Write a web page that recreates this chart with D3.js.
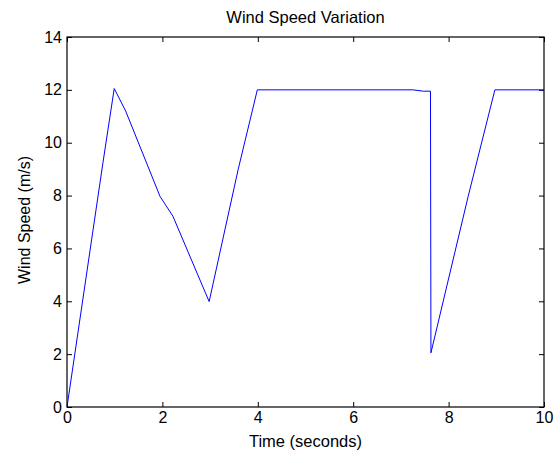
<!DOCTYPE html>
<html>
<head>
<meta charset="utf-8">
<script src="https://cdn.jsdelivr.net/npm/d3@7"></script>
<style>
  body { margin: 0; background: #fff; }
  #chart { width: 556px; height: 455px; }
  text { font-family: "Liberation Sans", Arial, sans-serif; fill: #000; }
</style>
</head>
<body>
<div id="chart"></div>
<script>
const timeValues = [0, 0.75, 0.99, 1.23, 1.95, 2.22, 2.98, 3.59, 3.99, 7.25, 7.47, 7.62, 7.63, 8.41, 8.97, 10];
const speedValues = [0, 9.2, 12.05, 11.2, 7.97, 7.22, 3.99, 9.0, 12.0, 12.0, 11.95, 11.95, 2.05, 7.97, 12.0, 12.0];
const xTicks = [0, 2, 4, 6, 8, 10];
const yTicks = [0, 2, 4, 6, 8, 10, 12, 14];

function renderWindSpeed(selector) {
    d3.select(selector).html("");

    const margin = {top: 37, right: 12, bottom: 48, left: 67};
    const fullWidth = 556, fullHeight = 455;
    const width = fullWidth - margin.left - margin.right;
    const height = fullHeight - margin.top - margin.bottom;

    const svg = d3.select(selector).append("svg")
        .attr("width", fullWidth)
        .attr("height", fullHeight);

    const g = svg.append("g")
        .attr("transform", `translate(${margin.left}, ${margin.top})`);

    const x = d3.scaleLinear().domain([0, 10]).range([0, width]);
    const y = d3.scaleLinear().domain([0, 14]).range([height, 0]);

    const data = timeValues.map((t, i) => ({t, v: speedValues[i]}));

    const tickLen = 5;

    // bottom axis, ticks pointing inward
    g.append("g")
        .attr("class", "axis axis-x")
        .attr("transform", `translate(0, ${height})`)
        .call(d3.axisBottom(x).tickValues(xTicks).tickSizeInner(-tickLen).tickSizeOuter(0).tickPadding(5))
        .call(a => a.select(".domain").remove());

    // top ticks
    g.append("g")
        .call(d3.axisTop(x).tickValues(xTicks).tickSizeInner(-tickLen).tickSizeOuter(0).tickFormat(""))
        .call(a => a.select(".domain").remove());

    // left axis
    g.append("g")
        .attr("class", "axis axis-y")
        .call(d3.axisLeft(y).tickValues(yTicks).tickSizeInner(-tickLen).tickSizeOuter(0).tickPadding(5))
        .call(a => a.select(".domain").remove());

    // right ticks
    g.append("g")
        .attr("transform", `translate(${width}, 0)`)
        .call(d3.axisRight(y).tickValues(yTicks).tickSizeInner(-tickLen).tickSizeOuter(0).tickFormat(""))
        .call(a => a.select(".domain").remove());

    g.selectAll(".tick line").attr("stroke", "#000");
    g.selectAll(".tick text")
        .attr("font-size", 16)
        .style("font-family", "'Liberation Sans', Arial, sans-serif");

    // axes box
    g.append("rect")
        .attr("x", 0).attr("y", 0)
        .attr("width", width).attr("height", height)
        .attr("fill", "none")
        .attr("stroke", "#000")
        .attr("stroke-width", 1.2);

    const line = d3.line()
        .x(d => x(d.t))
        .y(d => y(d.v));

    g.append("path")
        .datum(data)
        .attr("fill", "none")
        .attr("stroke", "#0000ff")
        .attr("stroke-width", 1)
        .attr("d", line);

    g.append("text")
        .attr("x", width / 2)
        .attr("y", -14)
        .attr("text-anchor", "middle")
        .attr("font-size", 16.5)
        .text("Wind Speed Variation");

    g.append("text")
        .attr("x", width / 2)
        .attr("y", height + 40)
        .attr("text-anchor", "middle")
        .attr("font-size", 16.5)
        .text("Time (seconds)");

    g.append("text")
        .attr("transform", `translate(${-37}, ${height / 2 - 2}) rotate(-90)`)
        .attr("text-anchor", "middle")
        .attr("font-size", 16)
        .text("Wind Speed (m/s)");
}

renderWindSpeed("#chart");
</script>
</body>
</html>
